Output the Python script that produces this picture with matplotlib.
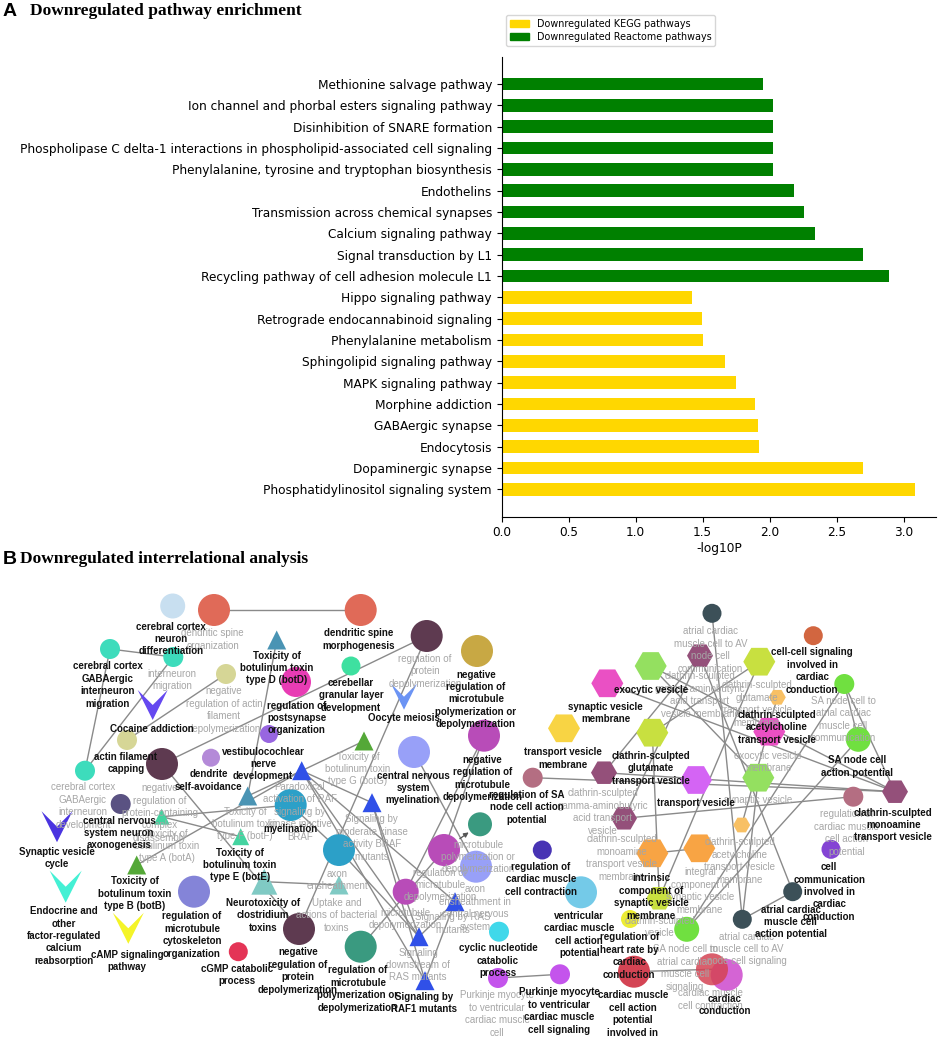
import matplotlib
matplotlib.use('Agg')
import matplotlib.pyplot as plt
from matplotlib.path import Path
from matplotlib.patches import Patch

# ---------------- Panel A data (bottom -> top) ----------------
pathways = [
    'Phosphatidylinositol signaling system', 'Dopaminergic synapse', 'Endocytosis',
    'GABAergic synapse', 'Morphine addiction', 'MAPK signaling pathway',
    'Sphingolipid signaling pathway', 'Phenylalanine metabolism',
    'Retrograde endocannabinoid signaling', 'Hippo signaling pathway',
    'Recycling pathway of cell adhesion molecule L1', 'Signal transduction by L1',
    'Calcium signaling pathway', 'Transmission across chemical synapses', 'Endothelins',
    'Phenylalanine, tyrosine and tryptophan biosynthesis',
    'Phospholipase C delta-1 interactions in phospholipid-associated cell signaling',
    'Disinhibition of SNARE formation', 'Ion channel and phorbal esters signaling pathway',
    'Methionine salvage pathway']
neglog10p = [3.087, 2.70, 1.92, 1.91, 1.89, 1.745, 1.67, 1.50, 1.496, 1.42,
             2.893, 2.70, 2.337, 2.257, 2.185, 2.028, 2.028, 2.028, 2.028, 1.949]
source = ['KEGG'] * 10 + ['Reactome'] * 10
source_colors = {'KEGG': 'gold', 'Reactome': 'green'}
legend_labels = {'KEGG': 'Downregulated KEGG pathways',
                 'Reactome': 'Downregulated Reactome pathways'}

# ---------------- Panel B data: network nodes ----------------
node_ids = ['ccnd', 'dso', 'dsm', 'ccgim', 'im', 'nrafd', 'coc', 'afc', 'nrpccd', 'ccgid',
            'dsa', 'vnd', 'botD', 'rpo', 'cgld', 'rpd', 'oocyte', 'nrmpd', 'nrmd', 'botG',
            'cnsm', 'parad', 'botF', 'myel', 'sbmod', 'cnsna', 'botA', 'botE', 'svc', 'botB',
            'endo', 'camp', 'rmco', 'cgmp', 'neurotox', 'axon', 'uptake', 'nrpd', 'rmpd', 'rmd',
            'mpd', 'aecns', 'md', 'sbras', 'sdras', 'raf1', 'cncp', 'pvc',
            'acavc', 'ccsicc', 'gabam', 'exo', 'glum', 'svm', 'achm', 'saatr', 'tvm', 'glut',
            'ach', 'sanap', 'rsa', 'gaba', 'tv', 'sv', 'rcm', 'mono', 'monom', 'achm2', 'rcmc',
            'oh1', 'oh2', 'ccic', 'vcm', 'isvm', 'acap', 'acavs', 'rhr', 'saas', 'cmcap', 'cc',
            'cmcc', 'pvcs']
node_shape = (['o', 'o', 'o', 'o', 'o', 'o', 'V', 'o', 'o', 'o',
               'o', 'o', '^', 'o', 'o', 'o', 'V', 'o', 'o', '^',
               'o', '^', '^', 'o', '^', 'o', '^', '^', 'V', '^',
               'V', 'V', 'o', 'o', '^', 'o', '^', 'o', 'o', 'o',
               'o', 'o', 'o', '^', '^', '^', 'o', 'o',
               'o', 'o', 'H', 'H', 'H', 'H', 'H', 'o', 'H', 'H',
               'H', 'o', 'o', 'H', 'H', 'H', 'o', 'H', 'H', 'H', 'o',
               'H', 'H', 'o', 'o', 'H', 'o', 'o', 'o', 'o', 'o', 'o',
               'o', 'o'])
node_color = ['#c8dff0', '#e06a58', '#e06a58', '#3ddcbc', '#3ddcbc', '#d6d696', '#6548f0',
              '#d6d696', '#5e3a50', '#3ddcbc', '#b48ad8', '#9866e0', '#4a94b4', '#e83cb4',
              '#3ee0a0', '#5e3a50', '#6c94f4', '#c8a844', '#b84cb8', '#54a838', '#98a0f8',
              '#3050e8', '#4a94b4', '#2ca0c8', '#3050e8', '#5a5282', '#44d4a0', '#44d4a0',
              '#4a34e0', '#54a838', '#44f0d4', '#f4f428', '#8484d8', '#e43456', '#80cac4',
              '#2ca0c8', '#80cac4', '#5e3a50', '#3a9a80', '#b84cb8', '#3a9a80', '#98a0f8',
              '#b84cb8', '#3050e8', '#3050e8', '#3050e8', '#40d8ea', '#c454ec',
              '#3c5058', '#d26640', '#94507a', '#94e060', '#c8e040', '#ea50c4', '#f8c064',
              '#70e040', '#f8d444', '#c8e040', '#ea50c4', '#70e040', '#b46e82', '#94507a',
              '#d464f4', '#94e060', '#b46e82', '#94507a', '#94507a', '#f8c064', '#4834b4',
              '#f8a444', '#f8a444', '#8444d4', '#74cae8', '#c8e040', '#3c5058', '#3c5058',
              '#ecec34', '#70e040', '#d44454', '#d464d4', '#d44454', '#c454ec']

# layout (pixel-like layout coordinates of the network canvas)
node_x = [172.7, 214, 360.7, 110, 173.3, 226, 152.7, 127, 162, 85,
          211, 269, 276.7, 296, 351, 426.7, 404, 477, 484, 364,
          414, 301.7, 247.7, 290.7, 372, 120.7, 161.7, 240.7, 57, 136.7,
          65.7, 128.3, 194, 238.3, 264.3, 339, 339, 299, 360.7, 444,
          480, 476, 405.7, 455, 419, 425, 499, 498,
          712, 813.3, 700, 650.7, 759.3, 607.3, 777.3, 844.3, 564, 652.3,
          769.3, 858.3, 532.7, 604, 696, 758.3, 853.3, 895, 624, 741.7, 542.3,
          652.3, 699.3, 831, 581, 659.3, 792.7, 742.3, 630, 686.7, 634, 726.7,
          712, 560]
node_y = [606, 610, 610, 649, 657, 674, 705, 740, 764, 770.7,
          757.7, 734, 640, 682, 666, 636, 696.7, 651, 735.7, 741,
          752, 770.7, 796, 805, 802.7, 804, 816.7, 836.7, 826.7, 865,
          886.7, 928.3, 891.7, 951.7, 881.7, 850, 885, 929, 946.7, 850,
          824.3, 866.7, 891.7, 901.7, 936.7, 980.7, 931.7, 978,
          613.3, 635.7, 655.7, 666, 661.7, 683.3, 697.3, 684, 728.3, 732.7,
          731.7, 739.3, 777.7, 772.7, 780, 777.7, 796.7, 791.7, 818.3, 825, 850,
          853.3, 848.3, 849.3, 892.3, 898.3, 891.7, 919.3, 919, 929.3, 971.7, 975,
          969.3, 974.3]
node_px = [25, 32, 32, 20, 20, 20, 30, 20, 32, 20,
           18, 18, 19, 30, 19, 32, 26, 32, 32, 19,
           32, 19, 19, 32, 19, 20, 16, 17, 31, 19,
           32, 31, 32, 19, 26, 32, 19, 32, 32, 32,
           24, 32, 26, 19, 19, 19, 20, 20,
           19, 19, 26, 32, 32, 32, 17, 20, 32, 32,
           32, 25, 20, 26, 32, 32, 20, 26, 26, 17, 19,
           32, 32, 19, 32, 26, 19, 19, 18, 25, 32, 32,
           32, 20]

edges = [('dso', 'dsm'), ('ccgim', 'im'), ('ccgim', 'ccgid'), ('im', 'ccgid'),
         ('afc', 'nrafd'), ('nrpccd', 'rpd'), ('nrpccd', 'nrpd'), ('rpd', 'nrpd'),
         ('botD', 'botF'), ('botF', 'parad'), ('botB', 'parad'), ('parad', 'botG'),
         ('botA', 'botE'), ('botA', 'myel'), ('parad', 'sbmod'), ('parad', 'sbras'),
         ('parad', 'sdras'), ('parad', 'raf1'), ('sbmod', 'sdras'), ('sbmod', 'raf1'),
         ('sbras', 'sdras'), ('sbras', 'raf1'), ('myel', 'axon'), ('neurotox', 'uptake'),
         ('cnsm', 'aecns'), ('rmpd', 'rmd'), ('nrmd', 'md'), ('nrmd', 'rmd'),
         ('pvc', 'pvcs'), ('axon', 'sdras'),
         ('acavc', 'acavs'), ('acavs', 'acap'), ('gabam', 'acap'), ('gabam', 'monom'),
         ('gabam', 'gaba'), ('exo', 'mono'), ('svm', 'mono'), ('glum', 'glut'),
         ('glum', 'isvm'), ('saatr', 'sanap'), ('saatr', 'saas'), ('sanap', 'saas'),
         ('saatr', 'mono'), ('rsa', 'mono'), ('gaba', 'mono'), ('monom', 'rcm'),
         ('achm', 'achm2'), ('oh1', 'oh2'), ('glut', 'isvm'), ('exo', 'sv'),
         ('cmcap', 'cmcc'), ('sv', 'acavs')]
arrow_edges = [('rmd', 'mpd')]

bold_labels = [
    ("cerebral cortex\nneuron\ndifferentiation", 171, 639),
    ("dendritic spine\nmorphogenesis", 359, 639.5),
    ("cerebral cortex\nGABAergic\ninterneuron\nmigration", 108, 685),
    ("Toxicity of\nbotulinum toxin\ntype D (botD)", 276.7, 668),
    ("cerebellar\ngranular layer\ndevelopment", 351, 695.5),
    ("Cocaine addiction", 151.7, 729),
    ("regulation of\npostsynapse\norganization", 296.7, 718),
    ("Oocyte meiosis", 404, 717.7),
    ("negative\nregulation of\nmicrotubule\npolymerization or\ndepolymerization", 476, 699.5),
    ("actin filament\ncapping", 126, 763),
    ("vestibulocochlear\nnerve\ndevelopment", 263, 764),
    ("dendrite\nself-avoidance", 209, 780.5),
    ("negative\nregulation of\nmicrotubule\ndepolymerization", 482.7, 778.5),
    ("central nervous\nsystem\nmyelination", 413, 788),
    ("central nervous\nsystem neuron\naxonogenesis", 119, 833),
    ("myelination", 291, 829.3),
    ("Synaptic vesicle\ncycle", 56.7, 858),
    ("Toxicity of\nbotulinum toxin\ntype E (botE)", 240, 865),
    ("Toxicity of\nbotulinum toxin\ntype B (botB)", 135, 893.7),
    ("Endocrine and\nother\nfactor-regulated\ncalcium\nreabsorption", 64.3, 936),
    ("regulation of\nmicrotubule\ncytoskeleton\norganization", 192, 935),
    ("Neurotoxicity of\nclostridium\ntoxins", 263, 915.5),
    ("cAMP signaling\npathway", 127.3, 961),
    ("cGMP catabolic\nprocess", 236.7, 975.3),
    ("negative\nregulation of\nprotein\ndepolymerization", 298, 971),
    ("regulation of\nmicrotubule\npolymerization or\ndepolymerization", 358, 989),
    ("Signaling by\nRAF1 mutants", 424, 1003),
    ("cyclic nucleotide\ncatabolic\nprocess", 498, 960.5),
    ("Purkinje myocyte\nto ventricular\ncardiac muscle\ncell signaling", 559, 1011),
    ("cell-cell signaling\ninvolved in\ncardiac\nconduction", 812.3, 671),
    ("exocytic vesicle", 650.7, 690),
    ("synaptic vesicle\nmembrane", 605.7, 713),
    ("clathrin-sculpted\nacetylcholine\ntransport vesicle", 776.7, 727.5),
    ("transport vesicle\nmembrane", 562.7, 758.3),
    ("clathrin-sculpted\nglutamate\ntransport vesicle", 650.7, 768.3),
    ("SA node cell\naction potential", 856.7, 766.3),
    ("regulation of SA\nnode cell action\npotential", 526.7, 807.5),
    ("transport vesicle", 696, 803.3),
    ("clathrin-sculpted\nmonoamine\ntransport vesicle", 893.3, 825),
    ("regulation of\ncardiac muscle\ncell contraction", 540.7, 879.3),
    ("intrinsic\ncomponent of\nsynaptic vesicle\nmembrane", 651, 897),
    ("cell\ncommunication\ninvolved in\ncardiac\nconduction", 829.3, 892),
    ("ventricular\ncardiac muscle\ncell action\npotential", 579.3, 934.5),
    ("atrial cardiac\nmuscle cell\naction potential", 790.7, 922),
    ("regulation of\nheart rate by\ncardiac\nconduction", 629.3, 956),
    ("cardiac muscle\ncell action\npotential\ninvolved in", 632.7, 1014),
    ("cardiac\nconduction", 725, 1005),
]
gray_labels = [
    ("dendritic spine\norganization", 212.7, 639.5),
    ("interneuron\nmigration", 172, 680),
    ("negative\nregulation of actin\nfilament\ndepolymerization", 224, 710),
    ("regulation of\nprotein\ndepolymerization", 425, 671.5),
    ("Toxicity of\nbotulinum toxin\ntype G (botG)", 358, 769),
    ("cerebral cortex\nGABAergic\ninterneuron\ndevelopment", 83, 806),
    ("negative\nregulation of\nprotein-containing\ncomplex\ndisassembly", 160, 813),
    ("Paradoxical\nactivation of RAF\nsignaling by\nkinase inactive\nBRAF", 300, 811.7),
    ("Toxicity of\nbotulinum toxin\ntype F (botF)", 245, 824),
    ("Toxicity of\nbotulinum toxin\ntype A (botA)", 166.7, 846),
    ("Signaling by\nmoderate kinase\nactivity BRAF\nmutants", 371.7, 838),
    ("microtubule\npolymerization or\ndepolymerization", 478, 857),
    ("axon\nensheathment", 337, 880),
    ("regulation of\nmicrotubule\ndepolymerization", 440, 885),
    ("axon\nensheathment in\ncentral nervous\nsystem", 475, 908),
    ("Uptake and\nactions of bacterial\ntoxins", 337, 915.5),
    ("microtubule\ndepolymerization", 405, 919),
    ("Signaling by RAS\nmutants", 453, 923.5),
    ("Signaling\ndownstream of\nRAS mutants", 418, 965),
    ("Purkinje myocyte\nto ventricular\ncardiac muscle\ncell", 497, 1014),
    ("atrial cardiac\nmuscle cell to AV\nnode cell\ncommunication", 710.7, 650),
    ("clathrin-sculpted\ngamma-aminobutyric\nacid transport\nvesicle membrane", 700, 695),
    ("clathrin-sculpted\nglutamate\ntransport vesicle\nmembrane", 757, 704),
    ("SA node cell to\natrial cardiac\nmuscle cell\ncommunication", 843.3, 719.5),
    ("exocytic vesicle\nmembrane", 768.3, 762),
    ("synaptic vesicle", 758.3, 800),
    ("clathrin-sculpted\ngamma-aminobutyric\nacid transport\nvesicle", 603, 812),
    ("regulation of\ncardiac muscle\ncell action\npotential", 846.7, 833),
    ("clathrin-sculpted\nmonoamine\ntransport vesicle\nmembrane", 621.7, 858),
    ("clathrin-sculpted\nacetylcholine\ntransport vesicle\nmembrane", 740, 861),
    ("integral\ncomponent of\nsynaptic vesicle\nmembrane", 700, 891),
    ("clathrin-sculpted\nvesicle", 660, 927),
    ("atrial cardiac\nmuscle cell to AV\nnode cell signaling", 746.7, 949),
    ("SA node cell to\natrial cardiac\nmuscle cell\nsignaling", 685, 968),
    ("cardiac muscle\ncell contraction", 710.7, 999.7),
]

# ---------------- figure ----------------
W, H = 941, 1040
fig = plt.figure(figsize=(W / 100, H / 100), dpi=100)

# Panel A
ax = fig.add_axes([501.7 / W, 1 - 516.7 / H, (936 - 501.7) / W, (516.7 - 56.7) / H])
ax.barh(range(len(pathways)), neglog10p, height=0.6,
        color=[source_colors[s] for s in source])
ax.set_yticks(range(len(pathways)))
ax.set_yticklabels(pathways, fontsize=8.75)
ax.tick_params(axis='x', labelsize=8.75)
ax.set_xticks([0, 0.5, 1.0, 1.5, 2.0, 2.5, 3.0])
ax.set_xlabel('-log10P', fontsize=8.75, labelpad=2)
for sp in ('top', 'right'):
    ax.spines[sp].set_visible(False)
handles = [Patch(color=source_colors[k], label=legend_labels[k]) for k in ('KEGG', 'Reactome')]
ax.legend(handles=handles, loc='upper left', bbox_to_anchor=(506 / W, 1 - 15 / H),
          bbox_transform=fig.transFigure, fontsize=6.9, borderaxespad=0,
          labelspacing=0.3, handlelength=2.0)

fig.text(3 / W, 1 - 12 / H, 'A', fontsize=14, fontweight='bold',
         family='Liberation Sans', ha='left', va='center')
fig.text(30 / W, 1 - 11 / H, 'Downregulated pathway enrichment', fontsize=12.5,
         fontweight='bold', family='Liberation Serif', ha='left', va='center')
fig.text(3 / W, 1 - 560 / H, 'B', fontsize=14, fontweight='bold',
         family='Liberation Sans', ha='left', va='center')
fig.text(20 / W, 1 - 559 / H, 'Downregulated interrelational analysis', fontsize=12.5,
         fontweight='bold', family='Liberation Serif', ha='left', va='center')

# Panel B
top = 575
axn = fig.add_axes([0, 0, 1, (H - top) / H])
axn.set_xlim(0, W)
axn.set_ylim(H, top)
axn.axis('off')

pos = {n: (x, y) for n, x, y in zip(node_ids, node_x, node_y)}
for a, b in edges:
    axn.plot([pos[a][0], pos[b][0]], [pos[a][1], pos[b][1]], color='#8a8a8a',
             lw=1.0, zorder=1, solid_capstyle='butt')
for a, b in arrow_edges:
    axn.annotate('', xy=pos[b], xytext=pos[a],
                 arrowprops=dict(arrowstyle='-|>', color='#555555', lw=0.9,
                                 mutation_scale=7, shrinkA=14, shrinkB=10), zorder=1)

v_path = Path([(-1, 1), (0, 0), (1, 1), (0, -1), (-1, 1)],
              [Path.MOVETO, Path.LINETO, Path.LINETO, Path.LINETO, Path.CLOSEPOLY])
px2pt = 0.72
for i, n in enumerate(node_ids):
    shp = node_shape[i]
    marker = v_path if shp == 'V' else shp
    s = (node_px[i] * px2pt) ** 2
    alpha = 0.85 if n == 'cmcc' else 1.0
    axn.scatter([node_x[i]], [node_y[i]], s=s, marker=marker, c=node_color[i],
                edgecolors='none', alpha=alpha, zorder=2)

for txt, x, y in gray_labels:
    axn.text(x, y, txt, fontsize=7, color='#a6a6a6', ha='center', va='center',
             multialignment='center', family='Liberation Sans', linespacing=1.3, zorder=3)
for txt, x, y in bold_labels:
    axn.text(x, y, txt, fontsize=7, color='#111111', ha='center', va='center',
             multialignment='center', family='Liberation Sans', fontweight='bold',
             linespacing=1.3, zorder=4)

fig.savefig('out.png', dpi=100)
